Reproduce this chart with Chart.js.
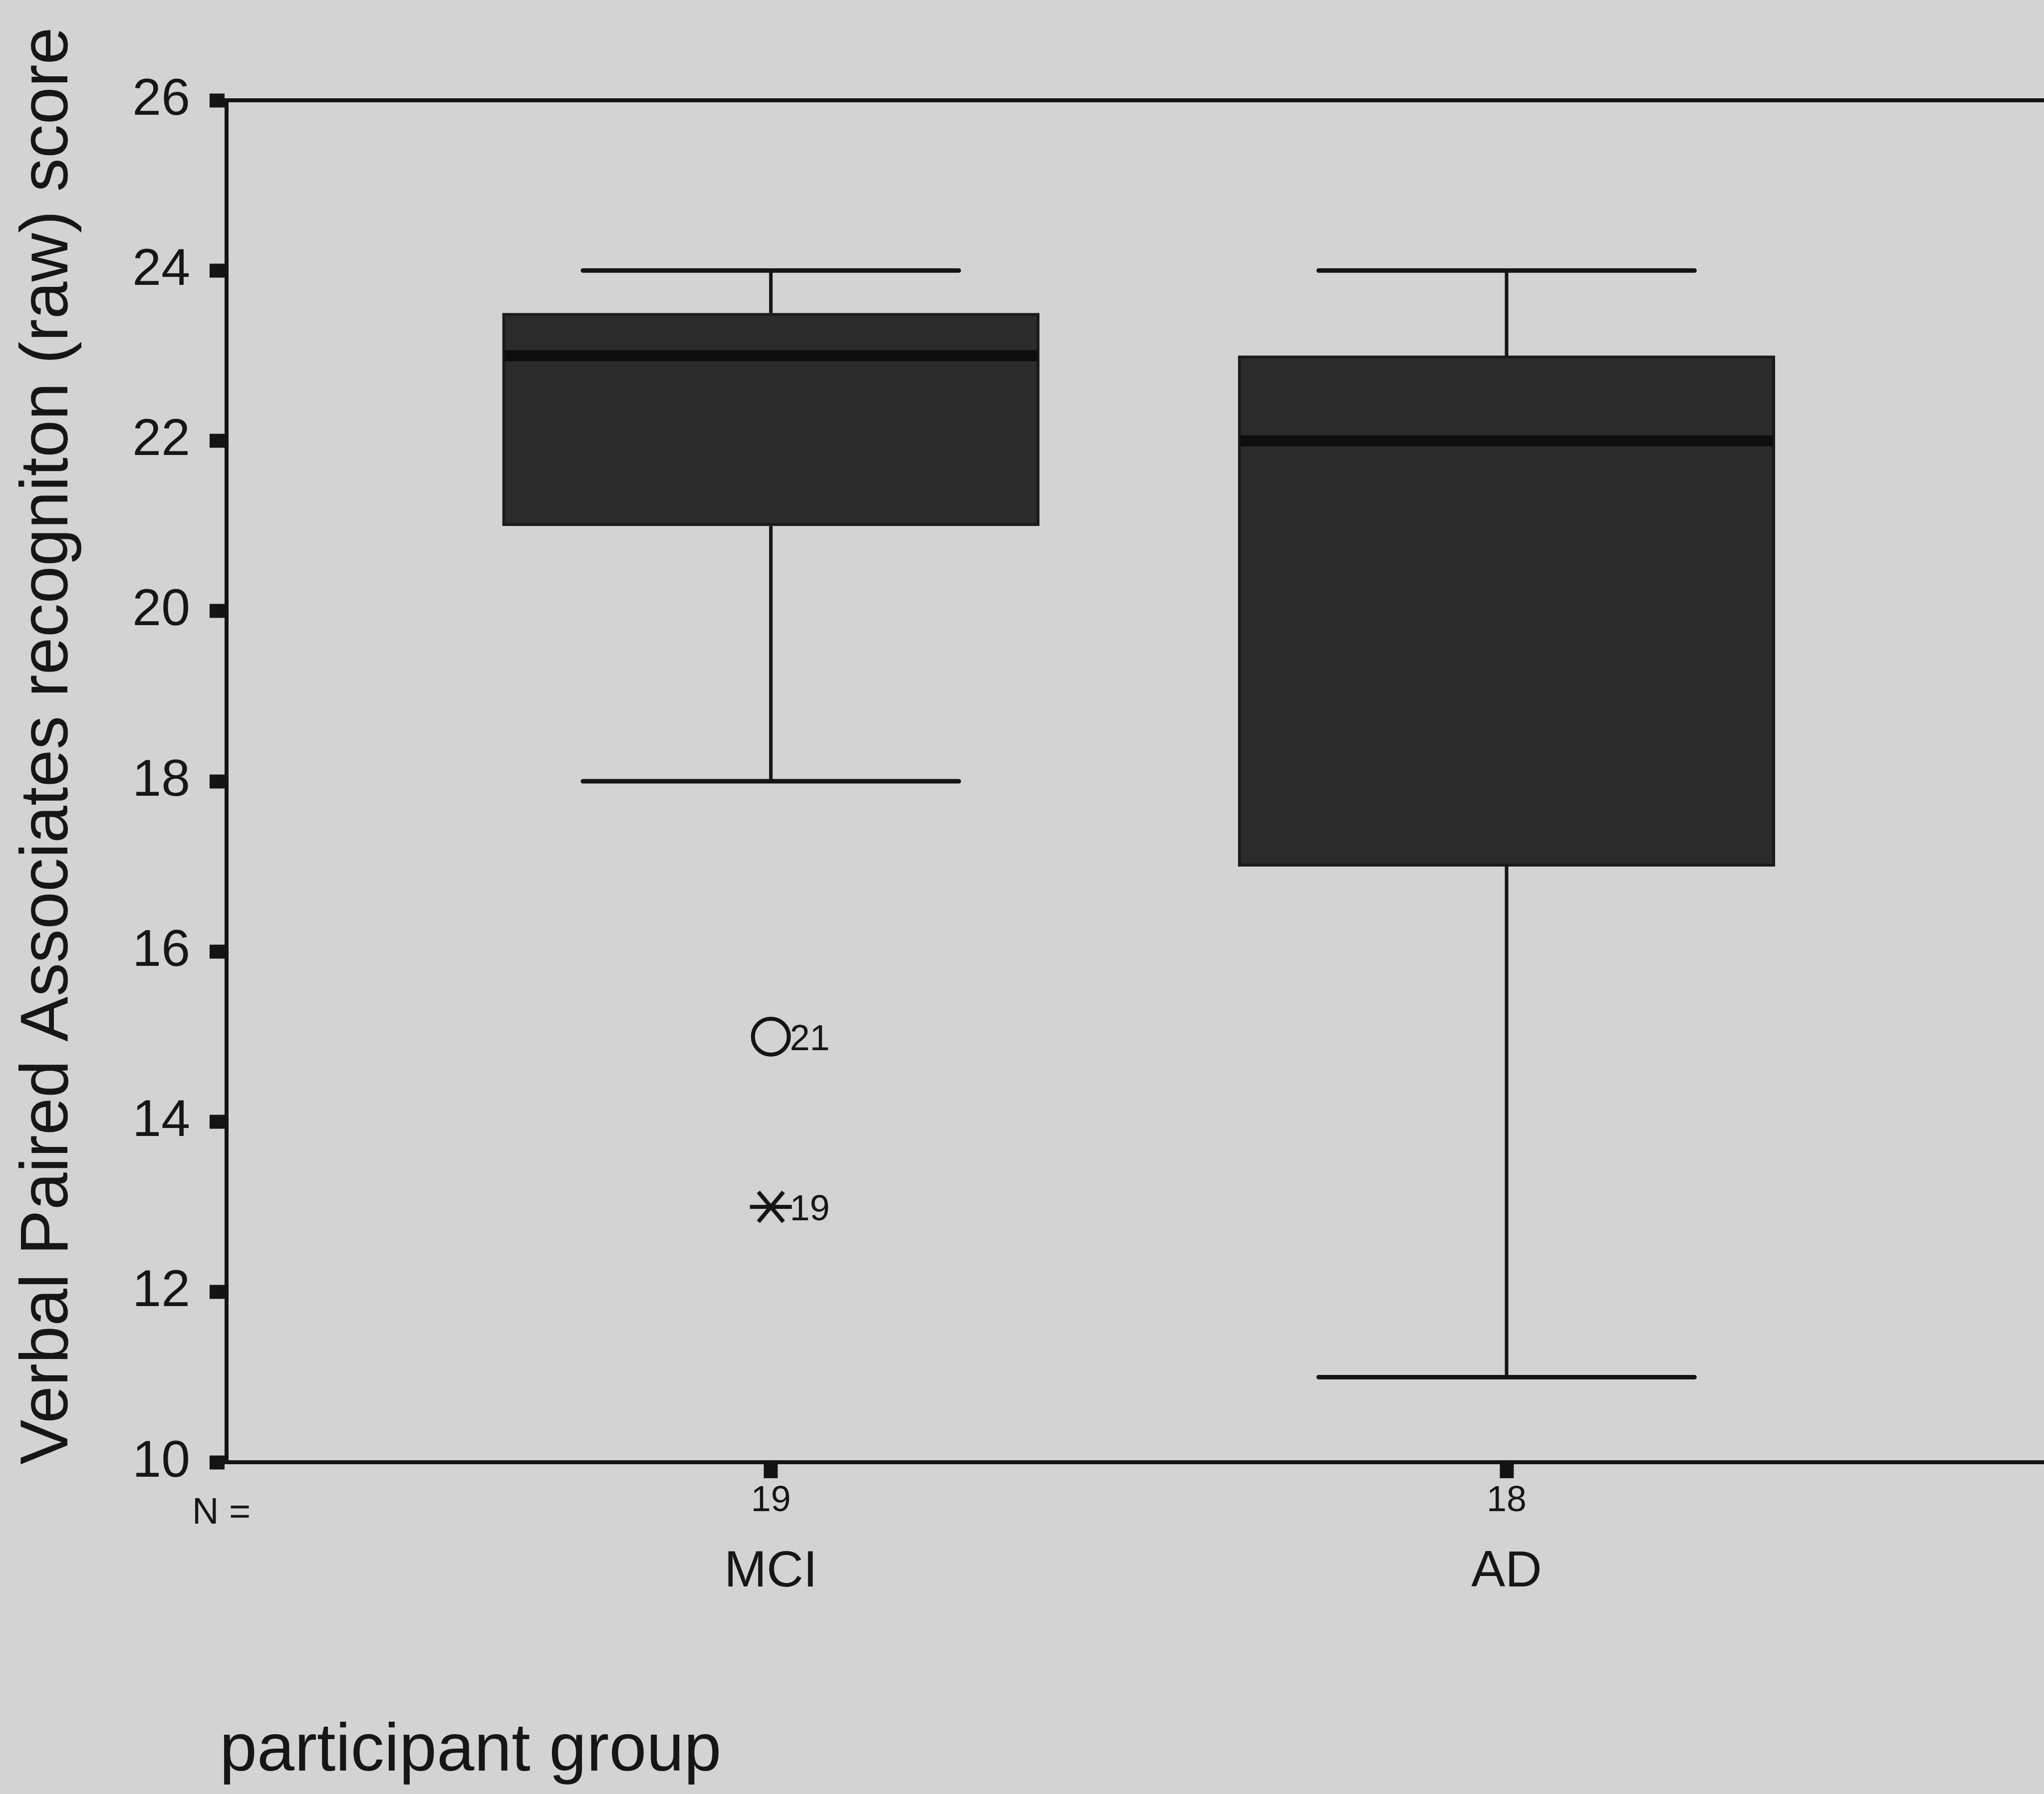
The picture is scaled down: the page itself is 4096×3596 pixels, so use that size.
<!DOCTYPE html>
<html>
<head>
<meta charset="utf-8">
<title>Verbal Paired Associates recognition</title>
<script src="https://cdn.jsdelivr.net/npm/chart.js@4.4.1/dist/chart.umd.min.js"></script>
<style>
  html, body { margin: 0; padding: 0; background: #d3d3d3; overflow: hidden; }
  #wrap { width: 4096px; height: 3596px; overflow: hidden; }
  canvas { display: block; }
</style>
</head>
<body>
<div id="wrap"><canvas id="boxChart" width="4400" height="3596" style="width:4400px;height:3596px"></canvas></div>
<script>
// boxplot summary per group
const groups = ['MCI', 'AD'];
const groupN = [19, 18];
const whiskerLow = [18, 11];
const boxLow = [21, 17];
const medians = [23, 22];
const boxHigh = [23.5, 23];
const whiskerHigh = [24, 24];

// outliers (circle) and extremes (asterisk), with case numbers
const outlierGroup = [1, 1];
const outlierValues = [15, 13];
const outlierCases = ['21', '19'];
const outlierKinds = ['outlier', 'extreme'];

const yTicks = [10, 12, 14, 16, 18, 20, 22, 24, 26];

const INK = '#141414';
const TEXT = '#161616';
const FONT = "'Liberation Sans', Arial, sans-serif";

Chart.defaults.font.family = FONT;
Chart.defaults.color = TEXT;

function makeAsterisk() {
    const c = document.createElement('canvas');
    c.width = 100; c.height = 100;
    const g = c.getContext('2d');
    g.strokeStyle = INK;
    g.lineWidth = 8;
    g.translate(50, 50);
    [[0, 42], [50, 39], [-50, 39]].forEach(([deg, len]) => {
        const r = deg * Math.PI / 180;
        g.beginPath();
        g.moveTo(-len * Math.cos(r), -len * Math.sin(r));
        g.lineTo(len * Math.cos(r), len * Math.sin(r));
        g.stroke();
    });
    return c;
}
const asterisk = makeAsterisk();

const boxData = groups.map((g, i) => ({ x: i + 1, y: [boxLow[i], boxHigh[i]] }));
const outlierData = outlierValues.map((v, i) => ({ x: outlierGroup[i], y: v }));

const boxPlotPlugin = {
    id: 'boxPlotExtras',
    beforeDatasetsDraw(chart) {
        const { ctx } = chart;
        const y = chart.scales.y;
        const boxes = chart.getDatasetMeta(0).data;
        ctx.save();
        ctx.strokeStyle = INK;
        boxes.forEach((el, i) => {
            const cx = el.x;
            const capHalf = el.width * 0.70 / 2;
            // stems
            ctx.lineWidth = 7;
            ctx.lineCap = 'butt';
            ctx.beginPath();
            ctx.moveTo(cx, y.getPixelForValue(boxHigh[i]));
            ctx.lineTo(cx, y.getPixelForValue(whiskerHigh[i]));
            ctx.moveTo(cx, y.getPixelForValue(boxLow[i]));
            ctx.lineTo(cx, y.getPixelForValue(whiskerLow[i]));
            ctx.stroke();
            // caps
            ctx.lineWidth = 9;
            ctx.lineCap = 'round';
            ctx.beginPath();
            [whiskerHigh[i], whiskerLow[i]].forEach(v => {
                const py = y.getPixelForValue(v);
                ctx.moveTo(cx - capHalf, py);
                ctx.lineTo(cx + capHalf, py);
            });
            ctx.stroke();
        });
        ctx.restore();
    },
    afterDatasetsDraw(chart) {
        const { ctx, chartArea } = chart;
        const x = chart.scales.x;
        const y = chart.scales.y;
        const boxes = chart.getDatasetMeta(0).data;
        ctx.save();

        // medians
        ctx.strokeStyle = '#0e0e0e';
        ctx.lineWidth = 22;
        ctx.lineCap = 'butt';
        boxes.forEach((el, i) => {
            const py = y.getPixelForValue(medians[i]);
            ctx.beginPath();
            ctx.moveTo(el.x - el.width / 2 + 4, py);
            ctx.lineTo(el.x + el.width / 2 - 4, py);
            ctx.stroke();
        });

        // case labels next to outliers
        ctx.fillStyle = TEXT;
        ctx.font = '72px ' + FONT;
        ctx.textAlign = 'left';
        ctx.textBaseline = 'alphabetic';
        chart.getDatasetMeta(1).data.forEach((pt, i) => {
            ctx.fillText(outlierCases[i], pt.x + 38, pt.y + 27);
        });

        // top frame line
        ctx.strokeStyle = INK;
        ctx.lineWidth = 8;
        ctx.beginPath();
        ctx.moveTo(chartArea.left, chartArea.top);
        ctx.lineTo(chartArea.right, chartArea.top);
        ctx.stroke();

        // N counts
        ctx.font = '74px ' + FONT;
        ctx.fillText('N =', chartArea.left - 69, chartArea.bottom + 123);
        ctx.font = '72px ' + FONT;
        ctx.textAlign = 'center';
        groupN.forEach((n, i) => {
            ctx.fillText(String(n), x.getPixelForValue(i + 1), chartArea.bottom + 98);
        });

        // axis titles
        ctx.font = '135px ' + FONT;
        ctx.textAlign = 'left';
        ctx.fillText('participant group', chartArea.left - 14, chartArea.bottom + 618);

        ctx.translate(chartArea.left - 319, (chartArea.top + chartArea.bottom) / 2 - 71);
        ctx.rotate(-Math.PI / 2);
        ctx.textAlign = 'center';
        ctx.fillText('Verbal Paired Associates recogniton (raw) score', 0, 0);
        ctx.restore();
    }
};

new Chart(document.getElementById('boxChart'), {
    type: 'bar',
    data: {
        datasets: [{
            label: 'box',
            data: boxData,
            backgroundColor: '#2b2b2b',
            borderColor: '#1a1a1a',
            borderWidth: 6,
            borderSkipped: false,
            barThickness: 1076
        }, {
            type: 'scatter',
            label: 'outliers',
            data: outlierData,
            pointStyle: outlierKinds.map(k => k === 'outlier' ? 'circle' : asterisk),
            radius: 36,
            borderWidth: 8,
            borderColor: INK,
            backgroundColor: 'rgba(0,0,0,0)'
        }]
    },
    options: {
        responsive: false,
        animation: false,
        layout: { padding: { top: 201, left: 0, right: 0, bottom: 0 } },
        plugins: {
            legend: { display: false },
            tooltip: { enabled: false }
        },
        scales: {
            x: {
                type: 'linear',
                min: 0.2602,
                max: 2.9068,
                offset: false,
                afterBuildTicks: scale => { scale.ticks = groups.map((g, i) => ({ value: i + 1 })); },
                afterFit: scale => { scale.height = 665; },
                grid: {
                    offset: false,
                    drawOnChartArea: false,
                    drawTicks: true,
                    tickLength: 32,
                    tickWidth: 28,
                    tickColor: INK
                },
                border: { display: true, color: INK, width: 8 },
                ticks: {
                    autoSkip: false,
                    maxRotation: 0,
                    padding: 128,
                    font: { size: 102 },
                    color: TEXT,
                    callback: v => groups[v - 1] || ''
                }
            },
            y: {
                min: 10,
                max: 26,
                afterBuildTicks: scale => { scale.ticks = yTicks.map(v => ({ value: v })); },
                afterFit: scale => { scale.width = 454; },
                grid: {
                    drawOnChartArea: false,
                    drawTicks: true,
                    tickLength: 34,
                    tickWidth: 28,
                    tickColor: INK
                },
                border: { display: true, color: INK, width: 8 },
                ticks: {
                    padding: 39,
                    font: { size: 104 },
                    color: TEXT
                }
            }
        }
    },
    plugins: [boxPlotPlugin]
});
</script>
</body>
</html>
